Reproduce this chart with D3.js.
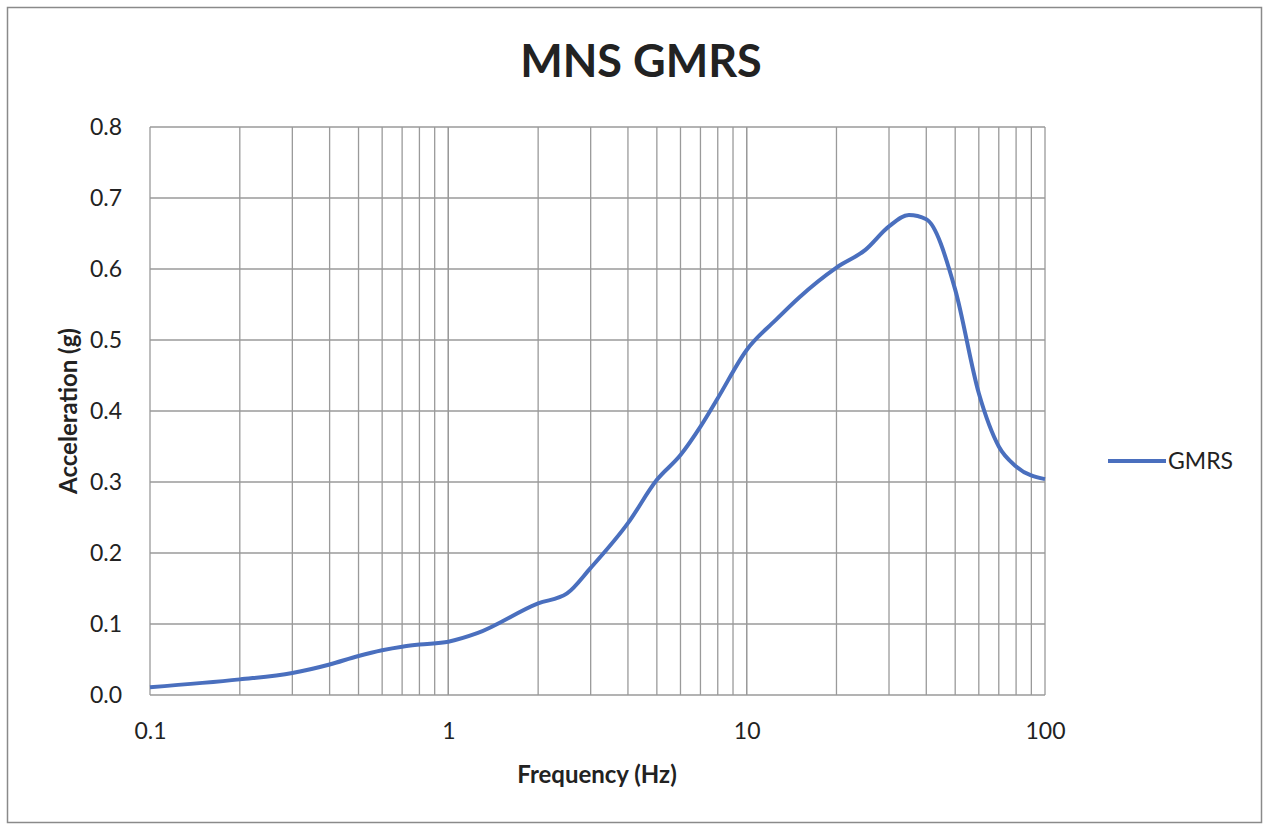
<!DOCTYPE html>
<html>
<head>
<meta charset="utf-8">
<script src="https://cdn.jsdelivr.net/npm/d3@7"></script>
<style>
  body { margin: 0; background: #fff; }
  svg text { font-family: Lato, "Open Sans", sans-serif; fill: #222; }
</style>
</head>
<body>
<div id="chart"></div>
<script>
// data
const freq = [0.1, 0.2, 0.3, 0.4, 0.5, 0.6, 0.7, 0.8, 1, 1.25, 2, 2.5, 3, 4, 5, 6, 7, 8, 10, 12.5, 15, 20, 25, 30, 35, 40, 50, 60, 70, 80, 100];
const accel = [0.011, 0.022, 0.031, 0.043, 0.055, 0.063, 0.068, 0.071, 0.075, 0.087, 0.129, 0.143, 0.179, 0.242, 0.303, 0.338, 0.378, 0.418, 0.486, 0.528, 0.56, 0.602, 0.627, 0.66, 0.676, 0.67, 0.571, 0.425, 0.35, 0.322, 0.304];
const yTicks = [0, 0.1, 0.2, 0.3, 0.4, 0.5, 0.6, 0.7, 0.8];
const xLabels = [0.1, 1, 10, 100];
const seriesName = "GMRS";

const W = 1265, H = 824;
const plot = {left: 150, right: 1045, top: 127, bottom: 695};

const svg = d3.select("#chart").append("svg")
  .attr("width", W).attr("height", H);

// outer frame
svg.append("rect")
  .attr("x", 7.5).attr("y", 7.5)
  .attr("width", 1254).attr("height", 815)
  .attr("fill", "#fff").attr("stroke", "#8a8a8a").attr("stroke-width", 1.5);

const x = d3.scaleLog().domain([0.1, 100]).range([plot.left, plot.right]);
const y = d3.scaleLinear().domain([0, 0.8]).range([plot.bottom, plot.top]);

// grid: every minor log step on x, each 0.1 on y
const xGrid = [];
[0.1, 1, 10].forEach(d => { for (let k = 1; k <= 10; k++) xGrid.push(d * k); });

const grid = svg.append("g").attr("stroke", "#9a9a9a").attr("stroke-width", 1.3);
grid.selectAll("line.v").data(xGrid).enter().append("line")
  .attr("x1", d => x(d)).attr("x2", d => x(d))
  .attr("y1", plot.top).attr("y2", plot.bottom);
grid.selectAll("line.h").data(yTicks).enter().append("line")
  .attr("x1", plot.left).attr("x2", plot.right)
  .attr("y1", d => y(d)).attr("y2", d => y(d));

// axes (labels only, gridlines stand in for the lines)
const yAxis = svg.append("g")
  .attr("transform", `translate(${plot.left},0)`)
  .call(d3.axisLeft(y).tickValues(yTicks).tickFormat(d3.format(".1f")).tickSize(0).tickPadding(28));
const xAxis = svg.append("g")
  .attr("transform", `translate(0,${plot.bottom})`)
  .call(d3.axisBottom(x).tickValues(xLabels).tickFormat(d => String(d)).tickSize(0).tickPadding(28));
[yAxis, xAxis].forEach(a => {
  a.select(".domain").remove();
  a.selectAll("text").attr("font-size", 23).attr("fill", "#222")
    .style("font-family", "Lato, 'Open Sans', sans-serif");
});

// series
const pts = freq.map((f, i) => [f, accel[i]]);
svg.append("path")
  .datum(pts)
  .attr("fill", "none")
  .attr("stroke", "#4a6fbe")
  .attr("stroke-width", 4)
  .attr("stroke-linejoin", "round")
  .attr("d", d3.line().x(d => x(d[0])).y(d => y(d[1])).curve(d3.curveMonotoneX));

// title and axis titles
svg.append("text")
  .attr("x", 641).attr("y", 77)
  .attr("text-anchor", "middle")
  .attr("font-size", 45).attr("font-weight", "bold")
  .text("MNS GMRS");

svg.append("text")
  .attr("x", 597).attr("y", 783)
  .attr("text-anchor", "middle")
  .attr("font-size", 24).attr("font-weight", "bold")
  .text("Frequency (Hz)");

svg.append("text")
  .attr("transform", "translate(77,411) rotate(-90)")
  .attr("text-anchor", "middle")
  .attr("font-size", 24).attr("font-weight", "bold")
  .text("Acceleration (g)");

// legend
const lg = svg.append("g").attr("transform", "translate(1108,461)");
lg.append("line")
  .attr("x1", 0).attr("x2", 58)
  .attr("stroke", "#4a6fbe").attr("stroke-width", 4);
lg.append("text")
  .attr("x", 60).attr("dy", "0.35em")
  .attr("font-size", 23)
  .text(seriesName);
</script>
</body>
</html>
